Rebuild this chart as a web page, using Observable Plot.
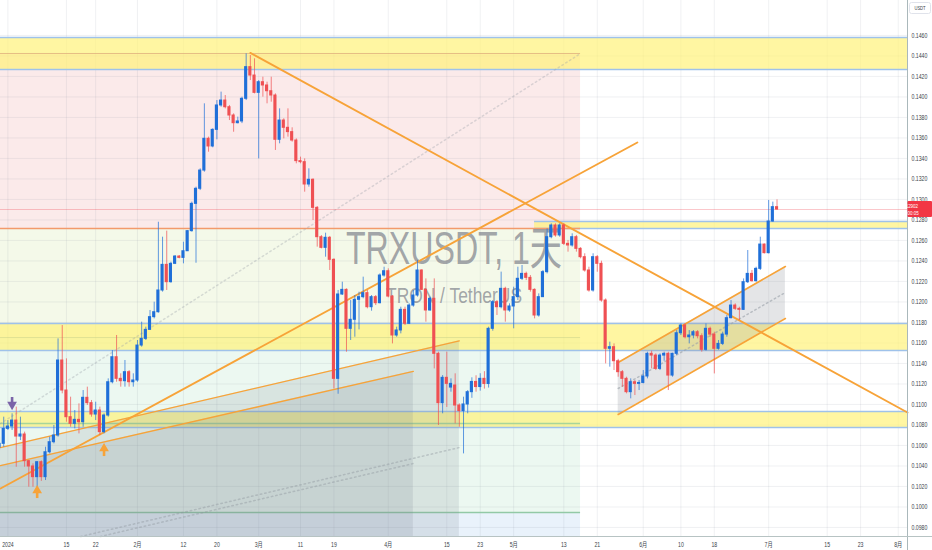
<!DOCTYPE html>
<html><head><meta charset="utf-8">
<script src="https://cdn.jsdelivr.net/npm/d3@7"></script>
<script src="https://cdn.jsdelivr.net/npm/@observablehq/plot@0.6"></script>
<style>html,body{margin:0;padding:0;background:#fff;overflow:hidden}svg{display:block}</style>
</head><body><div id="chart"></div>
<script>
// ---------- candle data (daily, 2023-12-30 .. 2024-07-03) ----------
const firstDay = "2023-12-30", lastDayExcl = "2024-07-04";
const open = [
 0.10580,0.10616,
 0.10762,0.10785,0.10843,0.10687,0.10707,0.10447,0.10395,0.10291,0.10437,0.10291,0.10534,0.10632,0.10697,0.11429,0.11136,0.10876,0.10811,0.10850,0.10827,0.11065,0.11013,0.10902,0.10941,0.10730,0.10892,0.11217,0.11461,0.11250,0.11227,0.11315,0.11217,
 0.11234,0.11575,0.11640,0.11728,0.11852,0.11900,0.12112,0.12362,0.12193,0.12372,0.12443,0.12430,0.12495,0.12691,0.12957,0.13104,0.13282,0.13592,0.13517,0.13679,0.13917,0.13965,0.13900,0.13819,0.13744,0.13761,0.13982,0.14291,0.14209,
 0.14040,0.14144,0.14112,0.14056,0.14014,0.13582,0.13770,0.13699,0.13657,0.13575,0.13374,0.13364,0.13146,0.13192,0.12918,0.12632,0.12528,0.12626,0.12411,0.11250,0.12073,0.12118,0.11738,0.11826,0.12021,0.12047,0.12086,0.11949,0.12047,0.11988,0.12258,
 0.12300,0.12053,0.11673,0.11722,0.11923,0.11787,0.11965,0.12063,0.12307,0.12118,0.11917,0.12031,0.11494,0.11013,0.11260,0.11165,0.11185,0.10990,0.10935,0.11000,0.11120,0.11220,0.11170,0.11250,0.11200,0.11738,0.11998,0.11949,0.12128,0.11917,
 0.11956,0.12047,0.12226,0.12274,0.12235,0.12118,0.11868,0.12047,0.12291,0.12632,0.12746,0.12649,0.12746,0.12567,0.12551,0.12632,0.12518,0.12437,0.12307,0.12112,0.12437,0.12372,0.12014,0.11543,0.11559,0.11422,0.11315,0.11250,0.11120,0.11217,0.11201,
 0.11210,0.11273,0.11494,0.11477,0.11347,0.11477,0.11494,0.11282,0.11494,0.11695,0.11770,0.11656,0.11673,0.11705,0.11666,0.11533,0.11738,0.11682,0.11543,0.11591,0.11682,0.11842,0.11965,0.11933,0.11923,0.12193,0.12274,0.12203,0.12323,0.12560,
 0.12476,0.12785,0.12925];
const high = [
 0.10680,0.10876,
 0.10843,0.10909,0.10974,0.10876,0.10730,0.10453,0.10421,0.10440,0.10450,0.10583,0.10681,0.10795,0.11640,0.11770,0.11445,0.11071,0.10941,0.11006,0.11136,0.11169,0.11039,0.11022,0.10974,0.10908,0.11250,0.11526,0.11673,0.11299,0.11429,0.11331,0.11299,
 0.11624,0.11803,0.11754,0.11917,0.11998,0.12778,0.12632,0.12691,0.12388,0.12453,0.12453,0.12583,0.12697,0.12974,0.13120,0.13299,0.13933,0.13608,0.13689,0.13965,0.14047,0.14014,0.13917,0.13835,0.13803,0.13998,0.14421,0.14404,0.14372,
 0.14160,0.14193,0.14144,0.14193,0.14030,0.13884,0.13787,0.13884,0.13699,0.13591,0.13413,0.13396,0.13299,0.13201,0.12931,0.12648,0.12671,0.12639,0.12421,0.12112,0.12193,0.12128,0.12014,0.12063,0.12095,0.12242,0.12112,0.12063,0.12063,0.12274,0.12339,
 0.12323,0.12063,0.11754,0.11949,0.11949,0.11982,0.12112,0.12404,0.12313,0.12225,0.12047,0.12225,0.11510,0.11282,0.11510,0.11250,0.11299,0.11006,0.11071,0.11136,0.11260,0.11280,0.11300,0.11320,0.11754,0.12014,0.12014,0.12291,0.12144,0.11982,
 0.12144,0.12339,0.12356,0.12291,0.12258,0.12128,0.12079,0.12307,0.12713,0.12762,0.12762,0.12762,0.12762,0.12600,0.12665,0.12649,0.12530,0.12470,0.12339,0.12470,0.12453,0.12398,0.12030,0.11608,0.11591,0.11440,0.11331,0.11266,0.11250,0.11234,0.11234,
 0.11331,0.11510,0.11520,0.11494,0.11494,0.11510,0.11510,0.11500,0.11721,0.11786,0.11786,0.11721,0.11721,0.11721,0.11689,0.11786,0.11754,0.11705,0.11624,0.11705,0.11868,0.12014,0.11982,0.11949,0.12225,0.12502,0.12307,0.12339,0.12632,0.12565,
 0.12990,0.12974,0.12996];
const low = [
 0.10550,0.10583,
 0.10746,0.10746,0.10388,0.10648,0.10388,0.10193,0.10193,0.10161,0.10250,0.10258,0.10518,0.10616,0.10681,0.11104,0.10827,0.10778,0.10762,0.10713,0.10778,0.10990,0.10876,0.10843,0.10697,0.10713,0.10876,0.11201,0.11217,0.11169,0.11169,0.11169,0.11169,
 0.11217,0.11559,0.11624,0.11722,0.11835,0.11891,0.12096,0.12112,0.12183,0.12365,0.12421,0.12372,0.12495,0.12681,0.12378,0.13087,0.13266,0.13461,0.13504,0.13582,0.13900,0.13884,0.13770,0.13656,0.13738,0.13740,0.13965,0.14160,0.14030,
 0.13396,0.13998,0.13933,0.13949,0.13478,0.13543,0.13591,0.13608,0.13559,0.13348,0.13348,0.13071,0.13120,0.12795,0.12535,0.12518,0.12437,0.12307,0.11152,0.11100,0.12063,0.11510,0.11624,0.11656,0.11728,0.12031,0.11933,0.11910,0.11965,0.11982,0.12242,
 0.12040,0.11591,0.11656,0.11689,0.11770,0.11780,0.11949,0.12047,0.12112,0.11803,0.11910,0.11347,0.10795,0.10909,0.10971,0.11120,0.10811,0.10778,0.10518,0.10909,0.11060,0.11120,0.11130,0.11150,0.11160,0.11715,0.11868,0.11933,0.11803,0.11900,
 0.11738,0.12014,0.12209,0.12209,0.12096,0.11835,0.11852,0.12047,0.12274,0.12616,0.12632,0.12632,0.12551,0.12486,0.12535,0.12486,0.12421,0.12291,0.12096,0.12096,0.12290,0.11998,0.11396,0.11364,0.11331,0.11266,0.11168,0.11104,0.11055,0.11087,0.11136,
 0.11201,0.11250,0.11347,0.11331,0.11331,0.11422,0.11136,0.11266,0.11477,0.11673,0.11640,0.11591,0.11640,0.11640,0.11510,0.11520,0.11656,0.11298,0.11530,0.11575,0.11656,0.11835,0.11917,0.11819,0.11917,0.12180,0.12193,0.12193,0.12307,0.12469,
 0.12469,0.12778,0.12895];
const close = [
 0.10616,0.10762,
 0.10785,0.10843,0.10687,0.10707,0.10447,0.10395,0.10291,0.10437,0.10291,0.10534,0.10632,0.10697,0.11429,0.11136,0.10876,0.10811,0.10850,0.10827,0.11065,0.11013,0.10902,0.10941,0.10730,0.10892,0.11217,0.11461,0.11250,0.11227,0.11315,0.11217,0.11234,
 0.11575,0.11640,0.11728,0.11852,0.11900,0.12112,0.12362,0.12193,0.12372,0.12443,0.12430,0.12495,0.12691,0.12957,0.13104,0.13282,0.13592,0.13517,0.13679,0.13917,0.13965,0.13900,0.13819,0.13744,0.13761,0.13982,0.14291,0.14209,0.14040,
 0.14144,0.14112,0.14056,0.14014,0.13582,0.13770,0.13699,0.13657,0.13575,0.13374,0.13364,0.13146,0.13192,0.12918,0.12632,0.12528,0.12626,0.12411,0.11250,0.12073,0.12118,0.11738,0.11826,0.12021,0.12047,0.12086,0.11949,0.12047,0.11988,0.12258,0.12300,
 0.12053,0.11673,0.11722,0.11923,0.11787,0.11965,0.12063,0.12307,0.12118,0.11917,0.12031,0.11494,0.11013,0.11260,0.11201,0.11201,0.10990,0.10935,0.11000,0.11120,0.11220,0.11170,0.11250,0.11200,0.11738,0.11998,0.11949,0.12128,0.11917,0.11956,
 0.12047,0.12226,0.12274,0.12235,0.12118,0.11868,0.12047,0.12291,0.12632,0.12746,0.12649,0.12746,0.12567,0.12551,0.12632,0.12518,0.12437,0.12307,0.12112,0.12437,0.12372,0.12014,0.11543,0.11559,0.11422,0.11315,0.11250,0.11120,0.11217,0.11201,0.11210,
 0.11273,0.11494,0.11477,0.11347,0.11477,0.11494,0.11282,0.11494,0.11695,0.11770,0.11656,0.11673,0.11705,0.11666,0.11533,0.11738,0.11682,0.11543,0.11591,0.11682,0.11842,0.11965,0.11933,0.11923,0.12193,0.12274,0.12203,0.12323,0.12560,0.12476,
 0.12785,0.12925,0.12902];
const lastPrice = 0.12902, lastTime = "17:00:05";

// ---------- axes ----------
const xDomain = ["2023-12-30T05:30:00Z", "2024-08-03T05:10:00Z"];
const yDomain = [0.09712, 0.14941];
const priceTicks = [0.098,0.100,0.102,0.104,0.106,0.108,0.110,0.112,0.114,0.116,0.118,0.120,0.122,0.124,0.126,0.128,0.130,0.132,0.134,0.136,0.138,0.140,0.142,0.144,0.146];
const dateTicks = ["2024-01-01","2024-01-15","2024-01-22","2024-02-01","2024-02-12","2024-02-20","2024-03-01","2024-03-11","2024-03-19","2024-04-01","2024-04-15","2024-04-23","2024-05-01","2024-05-13","2024-05-21","2024-06-01","2024-06-10","2024-06-18","2024-07-01","2024-07-15","2024-07-23","2024-08-01"];
const dateLabels = ["2024","15","22","2月","12","20","3月","11","19","4月","15","23","5月","13","21","6月","10","18","7月","15","23","8月"];

// ---------- drawings ----------
const zoneLow  = [0.14268, 0.11526, 0.10775];
const zoneHigh = [0.14580, 0.11790, 0.10931];
const smallZone = [0.12717, 0.12785];
const smallZoneStart = "2024-05-06";
const posEnd = "2024-05-17";
const posStop = 0.14424, posEntry = 0.12717, posMid = 0.11653, posTarget = 0.09946, posGreen = 0.10814;
const trendPeak = [["2024-02-28", 0.14430], ["2024-08-03T05:10:00Z", 0.10922]];
const trendRise = [["2023-12-30T05:30:00Z", 0.10180], ["2024-05-30T14:00:00Z", 0.13556]];
const lineA = [["2023-12-30T05:30:00Z", 0.10580], ["2024-04-18", 0.11621]];
const lineB = [["2023-12-30T05:30:00Z", 0.10404], ["2024-04-07", 0.11323]];
const dotA = [["2024-01-18T10:00:00Z", 0.09712], ["2024-04-18", 0.10580]];
const dotB = [["2024-01-23T03:00:00Z", 0.09712], ["2024-04-07", 0.10424]];
const dotDiag = [["2023-12-30T05:30:00Z", 0.10814], ["2024-05-17", 0.14424]];
const channelDates = ["2024-05-26", "2024-07-05"];
const channelUpper = [0.11409, 0.12346];
const channelLower = [0.10902, 0.11839];
const channelMid   = [0.11156, 0.12092];
const arrowDates = ["2024-01-02", "2024-01-08", "2024-01-24"];
const arrowHead  = [0.10999, 0.10161, 0.10570];
const arrowStem  = [[0.11068, 0.11019], [0.10141, 0.10082], [0.10551, 0.10492]];
const arrowDown  = [true, false, false];

// ---------- build ----------
const day = s => new Date(s.length > 10 ? s : s + "T00:00:00Z");
const x0 = day(xDomain[0]), x1 = day(xDomain[1]);
const dates = d3.utcDay.range(day(firstDay), day(lastDayExcl));
const up = "#1f6fd8", down = "#ef5053", orange = "#f7a338";
const candles = dates.map((date, i) => ({
  date, o: open[i], h: high[i], l: low[i], c: close[i],
  a: d3.utcHour.offset(date, -9), b: d3.utcHour.offset(date, 9),
  col: close[i] >= open[i] ? up : down
}));
const pts = arr => arr.map(([d, p]) => ({date: day(d), p}));
const seg = (arr, opts) => Plot.line(pts(arr), {x: "date", y: "p", ...opts});
const box = (xa, xb, ya, yb, opts) => Plot.rect([{xa: day(xa), xb: day(xb), ya, yb}], {x1: "xa", x2: "xb", y1: "ya", y2: "yb", ...opts});
const hline = (xa, xb, y, opts) => Plot.ruleY([{xa: day(xa), xb: day(xb), y}], {x1: "xa", x2: "xb", y: "y", ...opts});
const zones = zoneLow.map((l, i) => ({l, h: zoneHigh[i]}));
const channel = channelDates.map((d, i) => ({date: day(d), lo: channelLower[i], hi: channelUpper[i], mid: channelMid[i]}));
const arrows = arrowDates.map((d, i) => ({date: day(d), head: arrowHead[i], s1: arrowStem[i][0], s2: arrowStem[i][1], down: arrowDown[i]}));
const polyA = pts(lineA), polyB = pts(lineB);

const chart = Plot.plot({
  width: 932, height: 550,
  marginLeft: 0, marginRight: 25, marginTop: 0, marginBottom: 14,
  x: {type: "utc", domain: [x0, x1], axis: null},
  y: {domain: yDomain, axis: null},
  color: {type: "identity"},
  style: {background: "#fff", fontFamily: "'Liberation Sans', 'Noto Sans CJK SC', sans-serif", overflow: "visible"},
  marks: [
    // position tool backgrounds
    box(xDomain[0], posEnd, posEntry, posStop, {fill: "#fbeaea"}),
    box(xDomain[0], posEnd, posMid, posEntry, {fill: "#f4f9e9"}),
    box(xDomain[0], posEnd, posTarget, posMid, {fill: "#ecf8f1"}),
    box(xDomain[0], posEnd, yDomain[0], posTarget, {fill: "#e9f2fb"}),
    // grid
    Plot.ruleY(priceTicks, {stroke: "#8a94a6", strokeOpacity: 0.13}),
    Plot.ruleX(dateTicks.map(day), {stroke: "#8a94a6", strokeOpacity: 0.13}),
    // yellow zones
    Plot.rect(zones, {x1: x0, x2: x1, y1: "l", y2: "h", fill: "#fff176", fillOpacity: 0.68}),
    box(smallZoneStart, xDomain[1], smallZone[0], smallZone[1], {fill: "#fff176", fillOpacity: 0.68}),
    Plot.ruleY(zones.flatMap(z => [z.l, z.h]), {stroke: "#9fc2ea", strokeWidth: 1.6}),
    hline(smallZoneStart, xDomain[1], smallZone[0], {stroke: "#9fc2ea", strokeWidth: 1.4}),
    hline(smallZoneStart, xDomain[1], smallZone[1], {stroke: "#9fc2ea", strokeWidth: 1.4}),
    // position tool lines
    hline(xDomain[0], posEnd, posStop, {stroke: "#e0b07e", strokeOpacity: 0.8}),
    hline(xDomain[0], posEnd, posEntry, {stroke: "#f39a6b", strokeWidth: 1.4}),
    hline(xDomain[0], posEnd, posMid, {stroke: "#c9d28a", strokeOpacity: 0.5}),
    hline(xDomain[0], posEnd, posGreen, {stroke: "#a9d59a", strokeWidth: 1.4}),
    hline(xDomain[0], posEnd, posTarget, {stroke: "#92c9a6", strokeWidth: 1.4}),
    // grey projection polygons
    Plot.areaY(polyA, {x: "date", y1: yDomain[0], y2: "p", fill: "#76808c", fillOpacity: 0.17}),
    Plot.areaY(polyB, {x: "date", y1: yDomain[0], y2: "p", fill: "#76808c", fillOpacity: 0.17}),
    seg(dotA, {stroke: "#8d939c", strokeOpacity: 0.4, strokeDasharray: "1.5,3"}),
    seg(dotB, {stroke: "#8d939c", strokeOpacity: 0.4, strokeDasharray: "1.5,3"}),
    seg(dotDiag, {stroke: "#9aa0a8", strokeOpacity: 0.35, strokeDasharray: "1.5,3"}),
    // channel
    Plot.areaY(channel, {x: "date", y1: "lo", y2: "hi", fill: "#8f939c", fillOpacity: 0.24}),
    Plot.line(channel, {x: "date", y: "mid", stroke: "#9aa0a8", strokeDasharray: "1.5,3", strokeOpacity: 0.6}),
    // current price line
    Plot.ruleY([lastPrice], {stroke: "#f23645", strokeOpacity: 0.28}),
    // watermark
    Plot.text(["TRXUSDT, 1天"], {text: d => d, frameAnchor: "middle", dy: -19, fontSize: 46, fill: "#787b86", fillOpacity: 0.68}),
    Plot.text(["TRON / TetherUS"], {text: d => d, frameAnchor: "middle", dy: 27, fontSize: 22, fill: "#787b86", fillOpacity: 0.68}),
    // trend lines
    Plot.line(channel, {x: "date", y: "hi", stroke: orange, strokeWidth: 1.6}),
    Plot.line(channel, {x: "date", y: "lo", stroke: orange, strokeWidth: 1.6}),
    seg(lineA, {stroke: orange, strokeWidth: 1.3}),
    seg(lineB, {stroke: orange, strokeWidth: 1.3}),
    seg(trendRise, {stroke: orange, strokeWidth: 1.9}),
    seg(trendPeak, {stroke: orange, strokeWidth: 1.9}),
    // candles
    Plot.ruleX(candles, {x: "date", y1: "l", y2: "h", stroke: "col", strokeWidth: 1, strokeOpacity: 0.7}),
    Plot.rect(candles, {x1: "a", x2: "b", y1: d => Math.min(d.o, d.c), y2: d => Math.max(d.o, d.c), fill: "col", insetTop: -0.5, insetBottom: -0.5}),
    // arrows
    Plot.ruleX(arrows, {x: "date", y1: "s1", y2: "s2", stroke: d => d.down ? "#7a64a8" : orange, strokeWidth: 2.6}),
    Plot.dot(arrows, {x: "date", y: "head", symbol: "triangle", r: 3.6, fill: d => d.down ? "#7a64a8" : orange, stroke: "none", rotate: d => d.down ? 180 : 0}),
    // axis labels
    Plot.text(priceTicks, {x: x1, y: d => d, text: d => d.toFixed(4), dx: 4, textAnchor: "start", fontSize: 7, fill: "#3b3f4a"}),
    Plot.text(dateTicks.map((d, i) => ({date: day(d), label: dateLabels[i]})), {x: "date", y: yDomain[0], text: "label", dy: 8, fontSize: 7, fill: "#3b3f4a"})
  ]
});

document.getElementById("chart").append(chart);

// axis borders, price label, currency tag
const svg = d3.select(chart);
const ys = chart.scale("y");
const py = ys.apply(lastPrice);
svg.append("line").attr("x1", 907.5).attr("x2", 907.5).attr("y1", 0).attr("y2", 550).attr("stroke", "#aab8bb").attr("stroke-width", 1);
svg.append("line").attr("x1", 0).attr("x2", 932).attr("y1", 536.5).attr("y2", 536.5).attr("stroke", "#b7c3c3").attr("stroke-width", 1);
const g = svg.append("g").attr("font-family", "'Liberation Sans', sans-serif");
g.append("rect").attr("x", 907.5).attr("y", py - 8).attr("width", 24.5).attr("height", 16).attr("fill", "#f23645").attr("rx", 1);
g.append("text").attr("x", 910).attr("y", py - 1.5).attr("font-size", 6).attr("fill", "#fff").text(lastPrice.toFixed(5));
g.append("text").attr("x", 910).attr("y", py + 5.5).attr("font-size", 6).attr("fill", "#fff").text(lastTime);
g.append("rect").attr("x", 909.5).attr("y", 2.5).attr("width", 21).attr("height", 11).attr("fill", "#fff").attr("stroke", "#e0e3eb").attr("rx", 2);
g.append("text").attr("x", 920).attr("y", 10.3).attr("font-size", 5.5).attr("fill", "#3b3f4a").attr("text-anchor", "middle").text("USDT");

// narrow text like the reference
chart.querySelectorAll("text").forEach(t => {
  const s = t.textContent;
  const L = t.getComputedTextLength();
  if (!L) return;
  let target = L * 0.74;
  if (s === "TRXUSDT, 1天") target = 216;
  else if (s === "TRON / TetherUS") target = 136;
  t.setAttribute("textLength", target.toFixed(1));
  t.setAttribute("lengthAdjust", "spacingAndGlyphs");
});
</script></body></html>
